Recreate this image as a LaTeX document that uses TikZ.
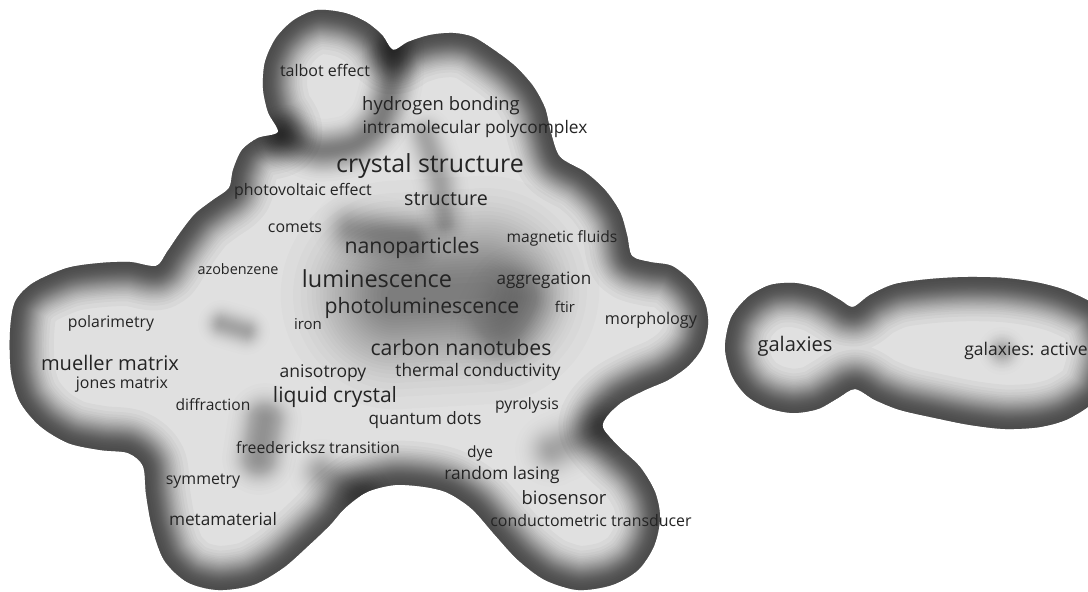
\documentclass[tikz,border=0pt]{standalone}
\usepackage{fontspec}
\setmainfont{Open Sans}

\tikzset{
  lab/.style={font=\fontsize{#1}{#1}\selectfont, text=black!86, anchor=base, inner sep=0pt, yshift={-0.3*#1}},
  ground/.style={fill=black!12},
}

% outlines of the two clusters (pixel coordinates, y down)
\def\mainblob{plot[smooth cycle] coordinates {
  (317,10) (345,13) (366,22) (382,35) (393,50)
  (408,42) (430,35) (453,33) (473,37) (494,50) (515,66) (533,86) (545,108) (551,133) (560,157)
  (585,172) (605,190) (620,212) (627,235) (632,256) (650,262)
  (672,266) (692,282) (705,303) (708,325) (702,348) (688,366) (668,380) (645,390) (622,402) (607,416) (603,428)
  (618,446) (640,467) (655,492) (660,518) (654,546) (638,570) (612,585) (578,590) (545,580) (518,560) (495,535)
  (472,509) (448,493) (425,487) (395,485) (367,492) (345,508)
  (330,525) (308,546) (283,568) (253,585) (218,590) (187,582) (164,560) (152,527) (146,494) (143,466)
  (128,453) (100,450) (68,443) (40,426) (20,402) (11,372) (10,332) (15,302) (33,283) (67,268) (100,263) (130,262) (156,266)
  (167,252) (180,233) (195,214) (213,200) (229,188) (233,170) (242,150) (258,138) (278,132)
  (268,112) (263,88) (265,62) (276,38) (294,20)}}
\def\galaxyblob{plot[smooth cycle] coordinates {
  (725,348) (731,318) (748,297) (770,285) (795,283) (820,289) (840,300) (853,307)
  (870,295) (895,284) (930,279) (967,277) (1005,278) (1040,283) (1070,292) (1100,310) (1112,350)
  (1100,395) (1070,418) (1040,427) (1005,429) (970,425) (935,418) (900,410) (875,400) (855,389)
  (838,398) (818,409) (793,413) (768,408) (747,396) (732,376)}}

% soft dark band along a path: #1 path, #2 spread, #3 opacity of one stroke
\newcommand\darkband[3]{%
  \foreach \k in {1,...,30}{%
    \pgfmathsetmacro\hw{#2*sqrt(-ln(\k/30.5))}%
    \draw[black, opacity=#3, line width=2*\hw, line cap=round, line join=round] #1;
  }}

\begin{document}
\begin{tikzpicture}[x=1pt, y=-1pt]
%\draw [lightgray] (0,0) grid [step=50] (1088,592);
\useasboundingbox (0,0) rectangle (1088,592);
\clip (0,0) rectangle (1088,592);
\fill [white] (0,0) rectangle (1088,592);

\fill [ground] \mainblob;
\begin{scope}
\clip \mainblob;
\darkband{plot[smooth] coordinates {(284,136) (318,150) (355,144) (380,120) (392,80) (393,50)}}{17}{0.014}
\darkband{(425,135) -- (440,180) -- (445,222)}{15}{0.007}
\darkband{(395,295) -- (485,290)}{62}{0.014}
\darkband{(505,330) -- (520,300)}{30}{0.006}
\darkband{(350,228) -- (410,238)}{20}{0.006}
\darkband{(222,324) -- (246,331)}{13}{0.009}
\darkband{(265,420) -- (259,458)}{20}{0.013}
\darkband{(600,428) -- (552,450)}{20}{0.009}
\darkband{(362,494) -- (322,472)}{18}{0.008}
\darkband{\mainblob}{24}{0.033}
\end{scope}

\fill [ground] \galaxyblob;
\begin{scope}
\clip \galaxyblob;
\darkband{(1002,351) -- (1002.5,351)}{13}{0.009}
\darkband{\galaxyblob}{24}{0.033}
\end{scope}

\node [lab=16]   (talbot)      at (325,72)  {talbot effect};
\node [lab=18.4] (hydrogen)    at (441,105) {hydrogen bonding};
\node [lab=17.3] (polycomplex) at (475,128) {intramolecular polycomplex};
\node [lab=24.9] (crystal)     at (430,165) {crystal structure};
\node [lab=15.9] (photovolt)   at (303,191) {photovoltaic effect};
\node [lab=19.7] (structure)   at (446,200) {structure};
\node [lab=15.9] (comets)      at (295,228) {comets};
\node [lab=15.6] (magnetic)    at (562,238) {magnetic fluids};
\node [lab=21.3] (nano)        at (412,247) {nanoparticles};
\node [lab=14.4] (azo)         at (238,270) {azobenzene};
\node [lab=23.5] (lumin)       at (377,280) {luminescence};
\node [lab=17.1] (aggreg)      at (544,279) {aggregation};
\node [lab=21.2] (photolum)    at (422,307) {photoluminescence};
\node [lab=14.8] (ftir)        at (565,308) {ftir};
\node [lab=16.2] (morph)       at (651,320) {morphology};
\node [lab=15.8] (polarim)     at (111,323) {polarimetry};
\node [lab=15]   (iron)        at (308,325) {iron};
\node [lab=21.2] (carbon)      at (461,349) {carbon nanotubes};
\node [lab=20.1] (mueller)     at (110,364) {mueller matrix};
\node [lab=17.5] (aniso)       at (323,372) {anisotropy};
\node [lab=17.3] (thermal)     at (478,371) {thermal conductivity};
\node [lab=15.9] (jones)       at (122,384) {jones matrix};
\node [lab=21.1] (liquid)      at (335,396) {liquid crystal};
\node [lab=15.6] (diffr)       at (213,406) {diffraction};
\node [lab=15.7] (pyrol)       at (527,405) {pyrolysis};
\node [lab=17.1] (quantum)     at (425,419) {quantum dots};
\node [lab=15.8] (freed)       at (318,449) {freedericksz transition};
\node [lab=15.5] (dye)         at (480,453) {dye};
\node [lab=17.3] (lasing)      at (502,474) {random lasing};
\node [lab=15.9] (symm)        at (203,480) {symmetry};
\node [lab=18.4] (biosens)     at (564,499) {biosensor};
\node [lab=17.2] (metamat)     at (223,520) {metamaterial};
\node [lab=15.9] (transd)      at (591,522) {conductometric transducer};
\node [lab=20.1] (galaxies)    at (795,345) {galaxies};
\node [lab=17.5] (active)      at (1026,350) {galaxies: active};
\end{tikzpicture}
\end{document}
